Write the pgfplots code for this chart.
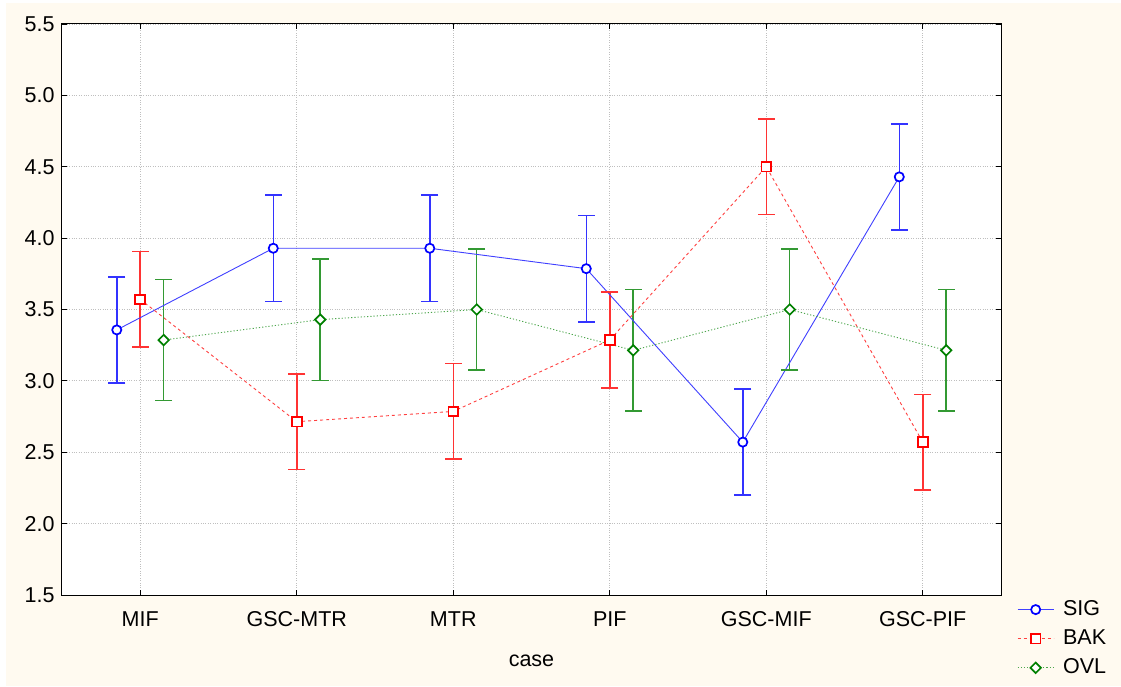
\documentclass[border=0pt]{standalone}
\usepackage{fontspec}
\setmainfont{Liberation Sans}
\usepackage{pgfplots}
\pgfplotsset{compat=1.18}
\definecolor{cream}{RGB}{255,250,240}
\definecolor{sigblue}{RGB}{0,0,255}
\definecolor{bakred}{RGB}{255,0,0}
\definecolor{ovlgreen}{RGB}{0,128,0}
\newcommand{\chartfont}{\fontsize{21.5bp}{25bp}\selectfont}
\begin{document}
\chartfont
\begin{tikzpicture}
\fill[white] (-62bp,-92bp) rectangle (1059bp,595bp);
\fill[cream] (-56bp,-91bp) rectangle (1059bp,592bp);
\begin{axis}[
 at={(0,0)}, anchor=south west,
 scale only axis, width=939bp, height=571bp,
 xmin=-0.5, xmax=5.5, ymin=1.5, ymax=5.5,
 xtick={0,1,2,3,4,5},
 xticklabels={MIF,GSC-MTR,MTR,PIF,GSC-MIF,GSC-PIF},
 ytick={1.5,2,2.5,3,3.5,4,4.5,5,5.5},
 yticklabel style={/pgf/number format/.cd, fixed, fixed zerofill, precision=1},
 /pgf/number format/assume math mode=true,
 tick label style={font=\chartfont},
 xticklabel style={yshift=-9bp},
 label style={font=\chartfont},
 xlabel style={yshift=-14bp},
 tick align=inside, major tick length=5bp,
 tick style={black, line width=0.8bp},
 axis line style={black, line width=1bp},
 grid=major, major grid style={gray!50, dotted, line width=0.8bp},
 axis background/.style={fill=white},
 xlabel={case},
 unbounded coords=jump,
 legend style={at={(1.016,-0.004)}, anchor=north west, draw=none, fill=none,
   font=\chartfont, inner sep=1bp, row sep=7bp,
   /tikz/every odd column/.append style={column sep=7bp}},
 legend cell align=left,
 every axis plot/.append style={legend image code/.code={\draw[mark repeat=2,mark phase=2] plot coordinates {(0bp,0bp)(18bp,0bp)(36bp,0bp)};}},
 errbar/.style={forget plot, solid, line width=1.5bp, mark=-, mark size=8.5bp,
   mark options={solid, line width=1.5bp}},
]
% error bars (mean +- error)
\addplot[errbar, color=sigblue!80] coordinates {
 (-0.15,2.985) (-0.15,3.729) (nan,nan)
 (0.85,3.557) (0.85,4.301) (nan,nan)
 (1.85,3.557) (1.85,4.301) (nan,nan)
 (2.85,3.414) (2.85,4.158) (nan,nan)
 (3.85,2.199) (3.85,2.943) (nan,nan)
 (4.85,4.057) (4.85,4.801)};
\addplot[errbar, color=bakred!80] coordinates {
 (0,3.236) (0,3.906) (nan,nan)
 (1,2.379) (1,3.049) (nan,nan)
 (2,2.451) (2,3.121) (nan,nan)
 (3,2.951) (3,3.621) (nan,nan)
 (4,4.165) (4,4.835) (nan,nan)
 (5,2.236) (5,2.906)};
\addplot[errbar, color=ovlgreen!80] coordinates {
 (0.15,2.861) (0.15,3.711) (nan,nan)
 (1.15,3.004) (1.15,3.854) (nan,nan)
 (2.15,3.075) (2.15,3.925) (nan,nan)
 (3.15,2.789) (3.15,3.639) (nan,nan)
 (4.15,3.075) (4.15,3.925) (nan,nan)
 (5.15,2.789) (5.15,3.639)};
% means
\addplot[color=sigblue!75, line width=0.9bp, mark=*, mark size=4.6bp,
  mark options={draw=sigblue, line width=1.7bp, fill=white, solid}]
 coordinates {(-0.15,3.357) (0.85,3.929) (1.85,3.929) (2.85,3.786) (3.85,2.571) (4.85,4.429)};
\addplot[color=bakred!75, line width=0.9bp, dash pattern=on 3bp off 3bp, mark=square*, mark size=4.8bp,
  mark options={draw=bakred, line width=1.9bp, fill=white, solid}]
 coordinates {(0,3.571) (1,2.714) (2,2.786) (3,3.286) (4,4.500) (5,2.571)};
\addplot[color=ovlgreen!70, line width=0.9bp, dash pattern=on 1.2bp off 2bp, mark=square*, mark size=3.7bp,
  mark options={draw=ovlgreen, line width=1.7bp, fill=white, solid, rotate=45}]
 coordinates {(0.15,3.286) (1.15,3.429) (2.15,3.500) (3.15,3.214) (4.15,3.500) (5.15,3.214)};
\legend{SIG,BAK,OVL}
\end{axis}
\end{tikzpicture}
\end{document}
